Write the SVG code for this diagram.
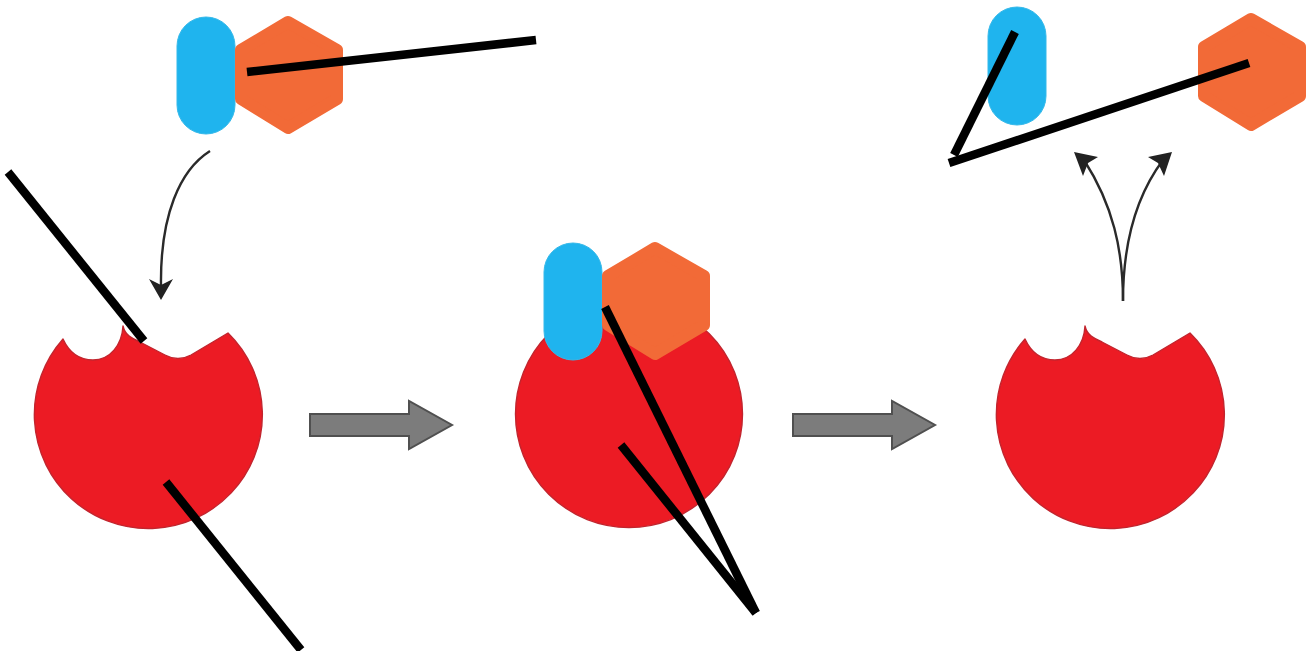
<svg xmlns="http://www.w3.org/2000/svg" xmlns:xlink="http://www.w3.org/1999/xlink" width="1310" height="651" viewBox="0 0 1310 651">
  <style>
    .enzyme { fill: #ec1b24; stroke: #c2252e; stroke-width: 1.4; stroke-linejoin: round; }
    .pill { fill: #1fb4ee; stroke: #35b9ea; stroke-width: 1; }
    .hex { fill: #f26a37; stroke: #f26a37; stroke-width: 12; stroke-linejoin: round; }
    .step { fill: #7c7c7c; stroke: #505050; stroke-width: 2; stroke-linejoin: miter; }
    .curve { fill: none; stroke: #2a2a2a; stroke-width: 2.4; }
    .tip { fill: #222222; }
    .leader { stroke: #000000; stroke-width: 8.500; fill: none; }
  </style>
  <defs>
    <path id="notched" d="M63 339 C69 352 79 360 93 360 C110 360 122 345 123 326 C125 335 131 338 140 342 L165 355 Q178 362 191 355 L228 333 A114 114 0 1 1 63 339 Z"/>
    <path id="hexagon" d="M288 22 L337 50 L337 99 L288 128 L241 99 L241 50 Z"/>
    <path id="blockArrow" d="M310 414 L409 414 L409 401 L452 425 L409 449 L409 436 L310 436 Z"/>
  </defs>

  <rect width="1310" height="651" fill="#ffffff"/>

  <g id="enzyme-free">
    <use xlink:href="#notched" class="enzyme"/>
  </g>
  <g id="substrate-bound">
    <circle class="enzyme" cx="629" cy="414" r="113.500"/>
    <rect class="pill" x="544" y="243" width="58" height="117" rx="29"/>
    <use xlink:href="#hexagon" class="hex" transform="translate(367 226)"/>
  </g>
  <g id="enzyme-released">
    <use xlink:href="#notched" class="enzyme" transform="translate(962 0)"/>
  </g>
  <g id="substrate-pair">
    <rect class="pill" x="177" y="17" width="58" height="117" rx="29"/>
    <use xlink:href="#hexagon" class="hex"/>
  </g>
  <g id="product-blue">
    <rect class="pill" x="988" y="7" width="58" height="118" rx="29"/>
  </g>
  <g id="product-orange">
    <use xlink:href="#hexagon" class="hex" transform="translate(963 -3)"/>
  </g>

  <g id="connectors">
    <use xlink:href="#blockArrow" class="step"/>
    <use xlink:href="#blockArrow" class="step" transform="translate(483 0)"/>

    <path class="curve" d="M210 151 C180 170 160 215 161 286"/>
    <path class="tip" d="M149 279 L161 300 L173 279 L161 285 Z"/>

    <path class="curve" d="M1123 301 C1123 250 1113 205 1084 160"/>
    <path class="curve" d="M1123 301 C1123 250 1133 200 1163 160"/>
    <path class="tip" d="M1074 152 L1098 157 L1088 163 L1083 176 Z"/>
    <path class="tip" d="M1172 152 L1148 157 L1158 163 L1164 176 Z"/>

    <line class="leader" x1="247" y1="72" x2="536" y2="40"/>
    <line class="leader" x1="8" y1="172" x2="144" y2="341"/>
    <line class="leader" x1="166" y1="482" x2="301" y2="650"/>
    <line class="leader" x1="605" y1="307" x2="756" y2="613"/>
    <line class="leader" x1="621" y1="445" x2="756" y2="613"/>
    <line class="leader" x1="1015" y1="32" x2="954" y2="155"/>
    <line class="leader" x1="949" y1="163" x2="1249" y2="63"/>
  </g>
</svg>
